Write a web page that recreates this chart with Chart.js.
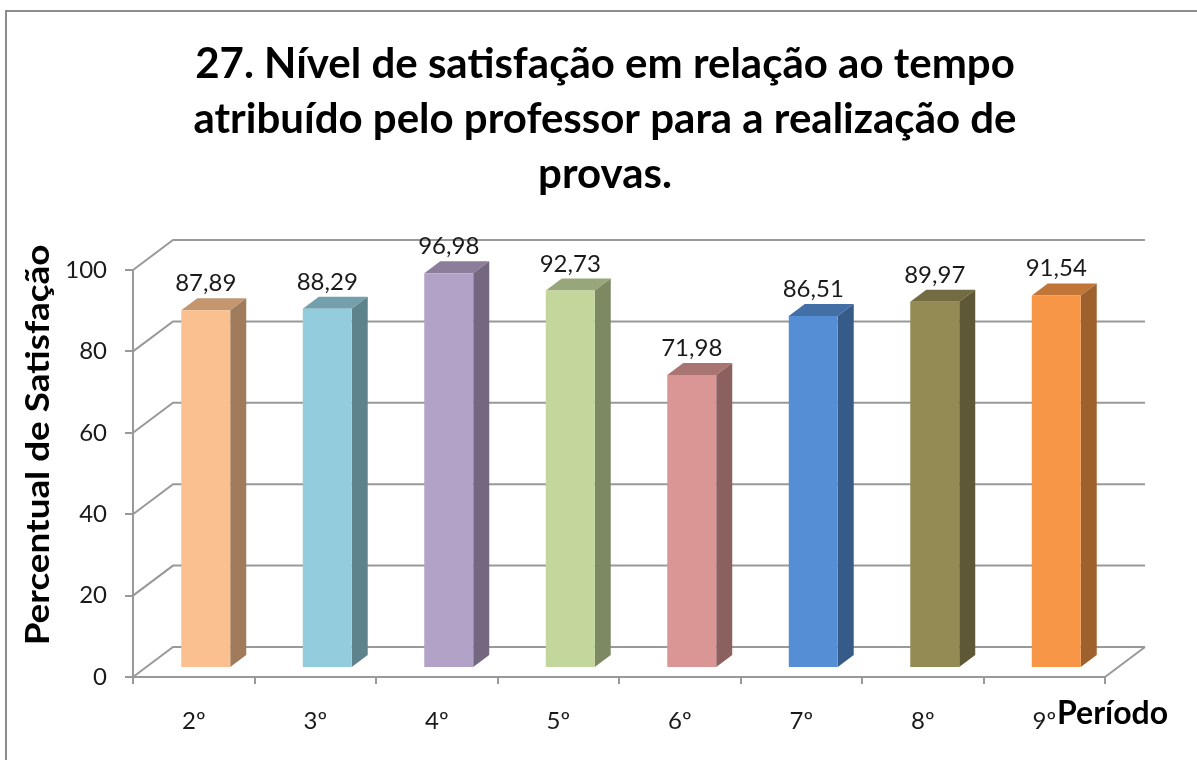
<!DOCTYPE html>
<html>
<head>
<meta charset="utf-8">
<script src="https://cdn.jsdelivr.net/npm/chart.js@4.4.1/dist/chart.umd.min.js"></script>
<style>
  html, body { margin: 0; padding: 0; background: #ffffff; }
  canvas { display: block; }
</style>
</head>
<body>
<canvas id="chart" width="1197" height="760"></canvas>
<script>
const periods = ['2º', '3º', '4º', '5º', '6º', '7º', '8º', '9º'];
const satisfaction = [87.89, 88.29, 96.98, 92.73, 71.98, 86.51, 89.97, 91.54];
const barColors = ['#FAC090', '#93CDDD', '#B3A2C7', '#C3D69B', '#D99694', '#558ED5', '#948A54', '#F79646'];
const yMin = 0, yMax = 100, yStep = 20;

const titleLines = [
    '27. Nível de satisfação em relação ao tempo',
    'atribuído pelo professor para a realização de',
    'provas.'
];
const yTitle = 'Percentual de Satisfação';
const xTitle = 'Período';

// depth of the box (back wall offset) and where the bars sit inside it
const WALL_DX = 40, WALL_DY = -30;
const BAR_FRONT = 0.3, BAR_DEPTH = 0.4;
const LINE = '#999999';

function shade(hex, f) {
    const n = parseInt(hex.slice(1), 16);
    const r = Math.round(((n >> 16) & 255) * f);
    const g = Math.round(((n >> 8) & 255) * f);
    const b = Math.round((n & 255) * f);
    return 'rgb(' + r + ',' + g + ',' + b + ')';
}

function poly(ctx, pts, fill) {
    ctx.beginPath();
    ctx.moveTo(pts[0][0], pts[0][1]);
    for (let i = 1; i < pts.length; i++) ctx.lineTo(pts[i][0], pts[i][1]);
    ctx.closePath();
    ctx.fillStyle = fill;
    ctx.fill();
}

const frame = {
    id: 'frame',
    beforeDraw(chart) {
        const ctx = chart.ctx;
        ctx.save();
        ctx.fillStyle = '#ffffff';
        ctx.fillRect(0, 0, chart.width, chart.height);
        ctx.strokeStyle = '#8c8c8c';
        ctx.lineWidth = 2;
        ctx.beginPath();
        ctx.moveTo(6, chart.height + 2);
        ctx.lineTo(6, 11);
        ctx.lineTo(chart.width + 2, 11);
        ctx.stroke();
        ctx.restore();
    }
};

const box3d = {
    id: 'box3d',
    beforeDatasetsDraw(chart) {
        const ctx = chart.ctx;
        const area = chart.chartArea;
        const y = chart.scales.y;
        ctx.save();
        ctx.strokeStyle = LINE;
        ctx.lineWidth = 2;

        // back wall gridlines and left wall diagonals
        for (let v = yMin; v <= yMax; v += yStep) {
            const py = y.getPixelForValue(v);
            ctx.beginPath();
            ctx.moveTo(area.left, py);
            ctx.lineTo(area.left + WALL_DX, py + WALL_DY);
            ctx.lineTo(area.right + WALL_DX, py + WALL_DY);
            ctx.stroke();
        }
        // right edge of the floor
        const base = y.getPixelForValue(yMin);
        ctx.beginPath();
        ctx.moveTo(area.right, base);
        ctx.lineTo(area.right + WALL_DX, base + WALL_DY);
        ctx.stroke();

        // bars
        const meta = chart.getDatasetMeta(0);
        const colors = chart.data.datasets[0].backgroundColor;
        const ox = WALL_DX * BAR_FRONT, oy = WALL_DY * BAR_FRONT;
        const dx = WALL_DX * BAR_DEPTH, dy = WALL_DY * BAR_DEPTH;
        meta.data.forEach((bar, i) => {
            const p = bar.getProps(['x', 'y', 'base', 'width'], true);
            const l = p.x - p.width / 2 + ox, r = p.x + p.width / 2 + ox;
            const t = p.y + oy, b = p.base + oy;
            const c = colors[i];
            poly(ctx, [[l, t], [r, t], [r + dx, t + dy], [l + dx, t + dy]], shade(c, 0.78));
            poly(ctx, [[r, t], [r + dx, t + dy], [r + dx, b + dy], [r, b]], shade(c, 0.64));
            poly(ctx, [[l, t], [r, t], [r, b], [l, b]], c);

            // value label
            ctx.fillStyle = '#1a1a1a';
            ctx.font = '24px Lato';
            ctx.textAlign = 'center';
            ctx.textBaseline = 'alphabetic';
            ctx.fillText(satisfaction[i].toFixed(2).replace('.', ','), (l + r) / 2, t - 19);
        });
        ctx.restore();
        return false;
    },
    afterDraw(chart) {
        const ctx = chart.ctx;

        // chart title, three centred lines
        ctx.save();
        ctx.fillStyle = '#000000';
        ctx.font = 'bold 42px Lato';
        ctx.textAlign = 'center';
        ctx.textBaseline = 'alphabetic';
        titleLines.forEach((line, i) => ctx.fillText(line, 605, 78 + i * 55));
        ctx.restore();

        // axis title on the left, rotated
        ctx.save();
        ctx.fillStyle = '#000000';
        ctx.font = 'bold 32px Lato';
        ctx.textBaseline = 'alphabetic';
        ctx.translate(49, 445);
        ctx.rotate(-Math.PI / 2);
        ctx.scale(1.15, 1);
        ctx.textAlign = 'center';
        ctx.fillText(yTitle, 0, 0);
        ctx.restore();

        ctx.save();
        ctx.fillStyle = '#000000';
        ctx.font = 'bold 32px Lato';
        ctx.textAlign = 'left';
        ctx.textBaseline = 'alphabetic';
        ctx.fillText(xTitle, 1057, 724);
        ctx.restore();
    }
};

new Chart(document.getElementById('chart'), {
    type: 'bar',
    data: {
        labels: periods,
        datasets: [{
            data: satisfaction,
            backgroundColor: barColors,
            barPercentage: 0.403,
            categoryPercentage: 1
        }]
    },
    options: {
        responsive: false,
        animation: false,
        layout: { padding: { left: 0, right: 92, top: 270, bottom: 0 } },
        plugins: {
            legend: { display: false },
            tooltip: { enabled: false },
            title: { display: false }
        },
        scales: {
            x: {
                afterFit(scale) { scale.height = 83; },
                grid: { display: true, drawOnChartArea: false, tickLength: 7, color: LINE, lineWidth: 2 },
                border: { display: true, color: LINE, width: 2 },
                ticks: { color: '#1a1a1a', font: { family: 'Lato', size: 24 }, padding: 23 }
            },
            y: {
                min: yMin,
                max: yMax,
                afterFit(scale) { scale.width = 133; },
                grid: { display: true, drawOnChartArea: false, tickLength: 8, color: LINE, lineWidth: 2 },
                border: { display: true, color: LINE, width: 2 },
                ticks: { stepSize: yStep, color: '#1a1a1a', font: { family: 'Lato', size: 24 }, padding: 18 }
            }
        }
    },
    plugins: [frame, box3d]
});
</script>
</body>
</html>
